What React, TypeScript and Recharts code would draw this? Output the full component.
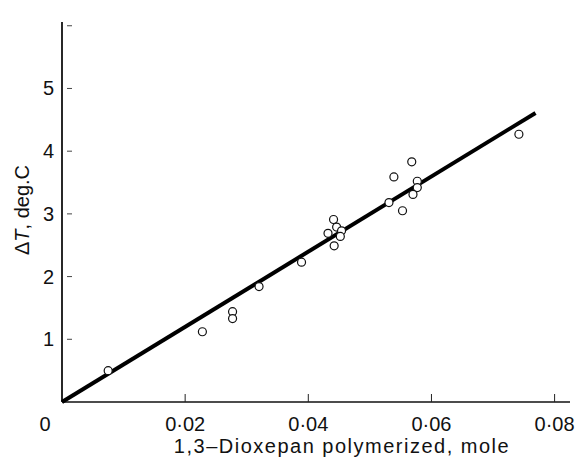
import React from "react";
import { ScatterChart, Scatter, XAxis, YAxis, Label } from "recharts";

// measured points (mole polymerized, delta T)
const moles = [
  0.0075, 0.0228, 0.0277, 0.0277, 0.032, 0.0389, 0.0441, 0.0446, 0.0432, 0.0454,
  0.0452, 0.0442, 0.0531, 0.0539, 0.0553, 0.0568, 0.0577, 0.0577, 0.057, 0.0742,
];
const deltaT = [
  0.5, 1.12, 1.44, 1.33, 1.84, 2.23, 2.91, 2.79, 2.69, 2.73,
  2.64, 2.49, 3.18, 3.59, 3.05, 3.83, 3.52, 3.42, 3.31, 4.27,
];

// fitted line end points
const fitX = [0, 0.0769];
const fitY = [0, 4.61];

const xTicks = [0, 0.02, 0.04, 0.06, 0.08];
const yTicks = [1, 2, 3, 4, 5, 6];
const yLabelled = [1, 2, 3, 4, 5];

const points = moles.map((m, i) => ({ x: m, y: deltaT[i] }));
const fit = fitX.map((m, i) => ({ x: m, y: fitY[i] }));

const FONT = "'Liberation Sans', Arial, sans-serif";

const XTick = (props: any) => {
  const { x, y, payload } = props;
  const v: number = payload.value;
  if (v === 0) {
    return (
      <text x={x - 17} y={y + 29} textAnchor="middle" fontSize={20} fontFamily={FONT} fill="#111">
        0
      </text>
    );
  }
  return (
    <g>
      <line x1={x} x2={x} y1={y} y2={y - 8} stroke="#222" strokeWidth={1} />
      <text x={x} y={y + 29} textAnchor="middle" fontSize={20} fontFamily={FONT} fill="#111">
        {v.toFixed(2).replace(".", "\u00b7")}
      </text>
    </g>
  );
};

const YTick = (props: any) => {
  const { x, y, payload } = props;
  const v: number = payload.value;
  return (
    <g>
      <line x1={x + 5} x2={x + 10} y1={y} y2={y} stroke="#444" strokeWidth={1} />
      {yLabelled.includes(v) && (
        <text x={x - 8} y={y + 7} textAnchor="end" fontSize={20} fontFamily={FONT} fill="#111">
          {v}
        </text>
      )}
    </g>
  );
};

const Circle = (props: any) => {
  const { cx, cy } = props;
  return <circle cx={cx} cy={cy} r={4} fill="#fff" stroke="#111" strokeWidth={1.2} />;
};

const NoDot = () => <g />;

export default function App() {
  return (
    <div style={{ position: "absolute", left: 0, top: 0, background: "#fff" }}>
      <ScatterChart
        width={578}
        height={459}
        margin={{ top: 22, right: 8, bottom: 0, left: 0 }}
      >
        <XAxis
          type="number"
          dataKey="x"
          domain={[0, 0.0825]}
          ticks={xTicks}
          tick={<XTick />}
          tickLine={false}
          tickSize={0}
          tickMargin={0}
          height={57}
          axisLine={{ stroke: "#111", strokeWidth: 1.6 }}
          interval={0}
        >
          <Label
            content={(p: any) => {
              const vb = p.viewBox;
              return (
                <text
                  x={vb.x + 280}
                  y={vb.y + 51}
                  textAnchor="middle"
                  fontSize={20}
                  letterSpacing={1.5}
                  fontFamily={FONT}
                  fill="#111"
                >
                  1,3{"\u2013"}Dioxepan polymerized, mole
                </text>
              );
            }}
          />
        </XAxis>
        <YAxis
          type="number"
          dataKey="y"
          domain={[0, 6.06]}
          ticks={yTicks}
          tick={<YTick />}
          tickLine={false}
          tickSize={0}
          tickMargin={0}
          width={62}
          axisLine={{ stroke: "#111", strokeWidth: 1.8 }}
          interval={0}
        >
          <Label
            content={(p: any) => {
              const vb = p.viewBox;
              return (
                <text
                  transform={`translate(${vb.x + 29}, ${vb.y + 188}) rotate(-90)`}
                  textAnchor="middle"
                  fontSize={20}
                  fontFamily={FONT}
                  fill="#111"
                >
                  {"\u0394"}
                  <tspan fontStyle="italic">T</tspan>
                  {", deg.C"}
                </text>
              );
            }}
          />
        </YAxis>
        <Scatter
          data={fit}
          line={{ stroke: "#000", strokeWidth: 4 }}
          shape={<NoDot />}
          isAnimationActive={false}
        />
        <Scatter data={points} shape={<Circle />} isAnimationActive={false} />
      </ScatterChart>
    </div>
  );
}
